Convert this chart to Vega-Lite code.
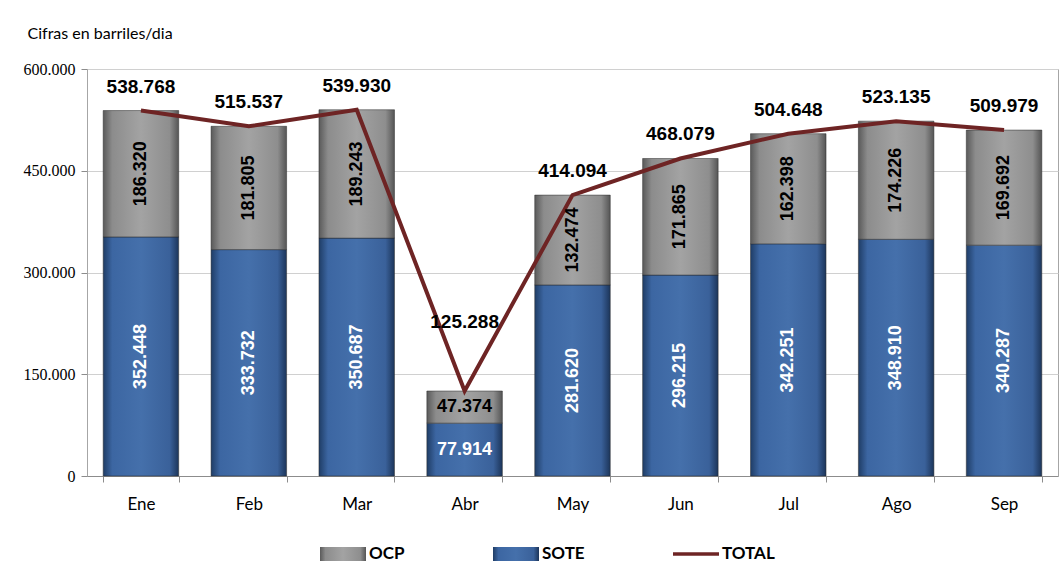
{
  "$schema": "https://vega.github.io/schema/vega-lite/v6.json",
  "autosize": "none",
  "width": 971,
  "height": 407,
  "padding": {"left": 87, "top": 69, "right": 5, "bottom": 99},
  "background": "white",
  "config": {
    "locale": {"number": {"decimal": ",", "thousands": ".", "grouping": [3], "currency": ["$", ""]}},
    "view": {"stroke": "#a6a6a6", "strokeWidth": 1}
  },
  "data": {
    "values": [
      {"month": "Ene", "SOTE": 352448, "OCP": 186320, "TOTAL": 538768},
      {"month": "Feb", "SOTE": 333732, "OCP": 181805, "TOTAL": 515537},
      {"month": "Mar", "SOTE": 350687, "OCP": 189243, "TOTAL": 539930},
      {"month": "Abr", "SOTE": 77914, "OCP": 47374, "TOTAL": 125288},
      {"month": "May", "SOTE": 281620, "OCP": 132474, "TOTAL": 414094},
      {"month": "Jun", "SOTE": 296215, "OCP": 171865, "TOTAL": 468079},
      {"month": "Jul", "SOTE": 342251, "OCP": 162398, "TOTAL": 504648},
      {"month": "Ago", "SOTE": 348910, "OCP": 174226, "TOTAL": 523135},
      {"month": "Sep", "SOTE": 340287, "OCP": 169692, "TOTAL": 509979}
    ]
  },
  "encoding": {
    "x": {
      "field": "month", "type": "nominal", "sort": null,
      "scale": {"paddingInner": 0.3, "paddingOuter": 0.15},
      "axis": {"title": null, "labelAngle": 0, "labelFont": "Lato", "labelFontSize": 17, "labelColor": "#000", "labelPadding": 14, "domainColor": "#8c8c8c", "tickColor": "#8c8c8c", "tickSize": 6, "tickBand": "extent"}
    }
  },
  "layer": [
    {
      "mark": {"type": "bar", "stroke": "#2a2a2a", "strokeWidth": 0.5,
        "fill": {"gradient": "linear", "x1": 0, "x2": 1, "y1": 0, "y2": 0, "stops": [{"offset": 0, "color": "#1f3d66"}, {"offset": 0.12, "color": "#3c66a2"}, {"offset": 0.5, "color": "#4570ab"}, {"offset": 0.88, "color": "#3a619a"}, {"offset": 1, "color": "#1c355a"}]}},
      "encoding": {
        "y": {
          "field": "SOTE", "type": "quantitative",
          "scale": {"domain": [0, 600000]},
          "axis": {"title": "Cifras en barriles/dia", "titleAngle": 0, "titleX": -60, "titleY": -36, "titleAlign": "left", "titleBaseline": "middle", "titleFont": "Lato", "titleFontSize": 16, "titleFontWeight": "normal", "titleColor": "#000", "values": [0, 150000, 300000, 450000, 600000], "format": ",d", "labelFont": "Liberation Serif", "labelFontSize": 16, "labelColor": "#000", "labelPadding": 6, "gridColor": "#d0d0d0", "domain": false, "tickColor": "#8c8c8c", "tickSize": 6}
        },
        "y2": {"datum": 0}
      }
    },
    {
      "mark": {"type": "bar", "stroke": "#2a2a2a", "strokeWidth": 0.5,
        "fill": {"gradient": "linear", "x1": 0, "x2": 1, "y1": 0, "y2": 0, "stops": [{"offset": 0, "color": "#5a5a5a"}, {"offset": 0.12, "color": "#8c8c8c"}, {"offset": 0.5, "color": "#a3a3a3"}, {"offset": 0.88, "color": "#8e8e8e"}, {"offset": 1, "color": "#555555"}]}},
      "encoding": {
        "y": {"field": "TOTAL", "type": "quantitative"},
        "y2": {"field": "SOTE"}
      }
    },
    {
      "mark": {"type": "line", "strokeWidth": 4},
      "encoding": {
        "y": {"field": "TOTAL", "type": "quantitative"},
        "color": {"datum": "TOTAL", "type": "nominal",
          "scale": {"domain": ["OCP", "SOTE", "TOTAL"], "range": ["#8c8c8c", "#3c66a2", "#6e2424"]},
          "legend": {
            "title": null, "orient": "none", "direction": "horizontal", "legendX": 233, "legendY": 462,
            "labelFont": "Lato", "labelFontSize": 17, "labelFontWeight": "bold", "labelColor": "#000", "labelOffset": 3,
            "symbolSize": 2116, "symbolType": "M-1,-0.3H1V0.3H-1Z", "columnPadding": 88, "symbolStrokeWidth": 0,
            "encode": {"symbols": {"update": {
              "fill": {"signal": "datum.value === 'OCP' ? {gradient: 'linear', x1: 0, y1: 0, x2: 1, y2: 0, stops: [{offset: 0, color: '#5a5a5a'}, {offset: 0.12, color: '#8c8c8c'}, {offset: 0.5, color: '#a3a3a3'}, {offset: 0.88, color: '#8e8e8e'}, {offset: 1, color: '#555555'}]} : datum.value === 'SOTE' ? {gradient: 'linear', x1: 0, y1: 0, x2: 1, y2: 0, stops: [{offset: 0, color: '#1f3d66'}, {offset: 0.12, color: '#3c66a2'}, {offset: 0.5, color: '#4570ab'}, {offset: 0.88, color: '#3a619a'}, {offset: 1, color: '#1c355a'}]} : '#6e2424'"},
              "stroke": {"value": "transparent"},
              "opacity": {"value": 1},
              "fillOpacity": {"value": 1},
              "shape": {"signal": "datum.value === 'TOTAL' ? 'M-1,-0.08H1V0.08H-1Z' : 'M-1,-0.3H1V0.3H-1Z'"}
            }}}
          }
        }
      }
    },
    {
      "transform": [{"filter": "datum.month !== 'Abr'"}],
      "mark": {"type": "text", "font": "Liberation Sans", "fontWeight": "bold", "fontSize": 19, "color": "#000", "baseline": "middle", "dy": -24},
      "encoding": {
        "y": {"field": "TOTAL", "type": "quantitative"},
        "text": {"field": "TOTAL", "type": "quantitative", "format": ",d"}
      }
    },
    {
      "transform": [{"filter": "datum.month === 'Abr'"}],
      "mark": {"type": "text", "font": "Liberation Sans", "fontWeight": "bold", "fontSize": 19, "color": "#000", "baseline": "middle", "dy": -69},
      "encoding": {
        "y": {"field": "TOTAL", "type": "quantitative"},
        "text": {"field": "TOTAL", "type": "quantitative", "format": ",d"}
      }
    },
    {
      "transform": [{"calculate": "(datum.SOTE + datum.TOTAL) / 2", "as": "ocpMid"}],
      "mark": {"type": "text", "font": "Liberation Sans", "fontWeight": "bold", "fontSize": 18, "color": "#000", "baseline": "middle", "align": "center"},
      "encoding": {
        "y": {"field": "ocpMid", "type": "quantitative"},
        "angle": {"condition": {"test": "datum.month === 'Abr'", "value": 0}, "value": 270},
        "text": {"field": "OCP", "type": "quantitative", "format": ",d"}
      }
    },
    {
      "transform": [{"calculate": "datum.SOTE / 2", "as": "soteMid"}],
      "mark": {"type": "text", "font": "Liberation Sans", "fontWeight": "bold", "fontSize": 18, "color": "#fff", "baseline": "middle", "align": "center"},
      "encoding": {
        "y": {"field": "soteMid", "type": "quantitative"},
        "angle": {"condition": {"test": "datum.month === 'Abr'", "value": 0}, "value": 270},
        "text": {"field": "SOTE", "type": "quantitative", "format": ",d"}
      }
    }
  ]
}
